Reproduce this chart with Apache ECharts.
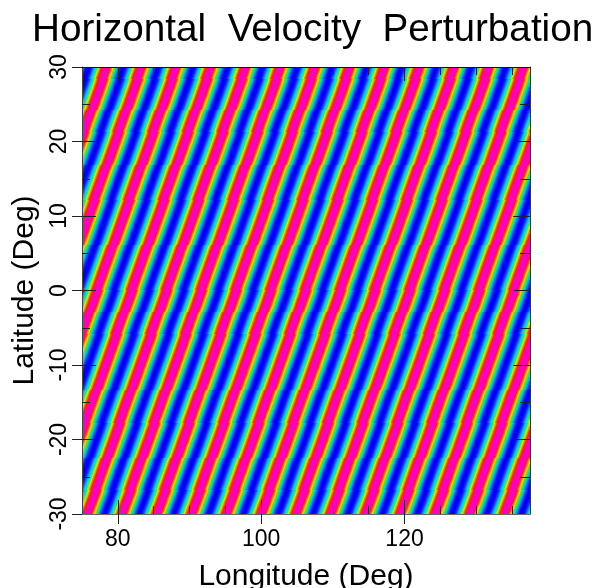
<!DOCTYPE html>
<html><head><meta charset="utf-8">
<style>html,body{margin:0;padding:0;background:#fff}#c{width:598px;height:588px}</style>
<script src="https://cdn.jsdelivr.net/npm/echarts@6/dist/echarts.min.js"></script>
</head><body><div id="c"></div>
<script>
// Path of one tracked crest (repeated lat = band offset in the image)
const crestLat = [-30,-26.8,-26.8,-22.5,-22.5,-17.8,-17.8,-13.4,-13.4,-5.8,-5.8,-2.9,-2.9,0.1,0.1,6.1,6.1,12.1,12.1,16.8,16.8,21.3,21.3,24.2,24.2,28.4,28.4,30];
const crestLon = [75.70,76.94,76.82,78.40,78.52,80.26,80.14,81.76,81.88,84.68,84.56,85.63,85.75,86.85,86.73,88.94,89.06,91.27,91.15,92.89,93.01,94.67,94.55,95.62,95.74,97.29,97.17,97.75];
const crestSpacing = 4.848;
// Value at successive offsets from a crest, out to the trough (1 = magenta crest, 0 = blue trough)
const cycleProfile = [1,1,0.98,0.88,0.76,0.64,0.52,0.4,0.28,0.16,0.06,0,0];
const rainbowStops = ['#0000f8','#0040ff','#00a0ff','#00e0d0','#30e050','#e8f000','#ff8000','#ff2000','#ff00c0'];
const xMajor = [80,100,120];
const xMinor = [85,90,95,105,110,115,125,130,135];
const yMajor = [-30,-20,-10,0,10,20,30];
const yInner = [-20,-10,0,10,20];
const yMinor = [-25,-15,-5,5,15,25];
const lonMin = 75, lonMax = 137.5, latStep = 0.1342;

function crestAt(lat){
  for (let i = 1; i < crestLat.length; i++) {
    if (lat <= crestLat[i] && crestLat[i] > crestLat[i-1]) {
      const t = (lat - crestLat[i-1]) / (crestLat[i] - crestLat[i-1]);
      return crestLon[i-1] + t * (crestLon[i] - crestLon[i-1]);
    }
  }
  return crestLon[crestLon.length-1];
}
// One row per latitude; each row's colours come from the crest path and the one-cycle profile
const rows = [];
for (let lat = -30 + latStep/2; lat < 30; lat += latStep) rows.push([lonMin, lat]);
const stepDeg = crestSpacing / 2 / (cycleProfile.length - 1);
const n = cycleProfile.length - 1;
function rowStops(lat){
  const c = crestAt(lat);
  const first = Math.floor((lonMin - c) / stepDeg) - 1;
  const stops = [];
  for (let k = first; ; k++) {
    const lon = c + k * stepDeg;
    const f = (lon - lonMin) / (lonMax - lonMin);
    if (f >= 0 && f <= 1) {
      const m = ((k % (2*n)) + 2*n) % (2*n);
      const v = cycleProfile[m <= n ? m : 2*n - m];
      stops.push({offset: f, color: echarts.color.lerp(v, rainbowStops)});
    }
    if (f > 1) break;
  }
  return stops;
}
const font = 'Liberation Sans';
function xAx(extra){ const o = Object.assign({type:'value',z:3,min:lonMin,max:lonMax,splitLine:{show:false},axisLine:{show:false},axisLabel:{show:false},axisTick:{show:false}},extra); o.axisLine = Object.assign({},o.axisLine,{onZero:false}); return o; }
function yAx(extra){ const o = Object.assign({type:'value',z:3,min:-30,max:30,interval:10,splitLine:{show:false},axisLine:{show:false},axisLabel:{show:false},axisTick:{show:false}},extra); o.axisLine = Object.assign({},o.axisLine,{onZero:false}); return o; }
const tk = (vals,len,inside)=>({show:true,inside,length:len,customValues:vals,lineStyle:{color:'#222',width:1}});
const chart = echarts.init(document.getElementById('c'),null,{renderer:'canvas'});
chart.setOption({
  animation:false,
  backgroundColor:'#fff',
  title:{text:'Horizontal  Velocity  Perturbation',left:27,top:6,textStyle:{fontFamily:font,fontWeight:'normal',fontSize:38.7,color:'#000'}},
  grid:{left:82,top:67,right:68,bottom:74,outerBoundsMode:'none'},
  xAxis:[
    xAx({position:'bottom',name:'Longitude (Deg)',nameLocation:'middle',nameGap:48,nameTextStyle:{fontFamily:font,fontSize:30,color:'#000'},
      axisLine:{show:true,lineStyle:{color:'#666',width:1}},axisTick:tk(xMajor,10,false),
      axisLabel:{show:true,customValues:xMajor,margin:14,fontFamily:font,fontSize:23,color:'#000'}}),
    xAx({position:'bottom',axisTick:tk(xMajor,14,true)}),
    xAx({position:'bottom',axisTick:tk(xMinor,8,true)}),
    xAx({position:'top',axisLine:{show:true,lineStyle:{color:'#111',width:1}},axisTick:tk(xMajor,14,true)}),
    xAx({position:'top',axisTick:tk(xMinor,8,true)})
  ],
  yAxis:[
    yAx({position:'left',name:'Latitude (Deg)',nameLocation:'middle',nameGap:38,nameTextStyle:{fontFamily:font,fontSize:30,color:'#000'},
      axisLine:{show:true,lineStyle:{color:'#444',width:1}},axisTick:tk(yMajor,10,false),
      axisLabel:{show:true,customValues:yMajor,rotate:90,margin:11,fontFamily:font,fontSize:23,color:'#000'}}),
    yAx({position:'left',axisTick:tk(yInner,14,true)}),
    yAx({position:'left',axisTick:tk(yMinor,8,true)}),
    yAx({position:'right',axisLine:{show:true,lineStyle:{color:'#333',width:1}},axisTick:tk(yInner,17,true)}),
    yAx({position:'right',axisTick:tk(yMinor,10,true)})
  ],
  series:[{
    type:'custom',coordinateSystem:'cartesian2d',clip:true,silent:true,z:1,
    progressive:0,
    encode:{x:0,y:1},
    data:rows,
    renderItem:function(params,api){
      const lat = api.value(1);
      const a = api.coord([lonMin, lat+latStep/2]);
      const b = api.coord([lonMax, lat-latStep/2]);
      const y = Math.round(a[1]);
      return {type:'rect',shape:{x:a[0],y,width:b[0]-a[0],height:Math.max(1,Math.round(b[1])-y)},
        style:{fill:new echarts.graphic.LinearGradient(0,0,1,0,rowStops(lat))}};
    }
  }]
});
</script></body></html>
